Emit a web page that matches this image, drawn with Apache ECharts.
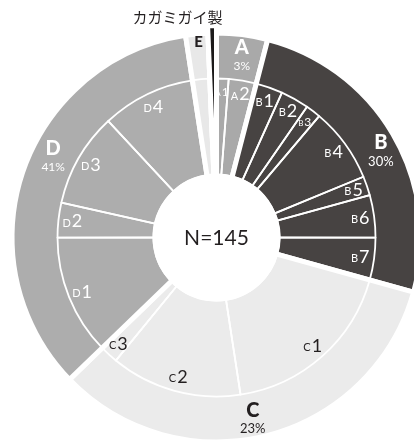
<!DOCTYPE html>
<html>
<head>
<meta charset="utf-8">
<script src="https://cdn.jsdelivr.net/npm/echarts@6/dist/echarts.min.js"></script>
<style>
html,body{margin:0;padding:0;background:#fff;}
#chart{width:414px;height:441px;}
</style>
</head>
<body>
<div id="chart"></div>
<script>
// ---- data ----
const totalN = 145;
const categories = ['A', 'B', 'C', 'D', 'E', 'カガミガイ製'];
const categoryShares = ['3%', '30%', '23%', '41%', '', ''];
const subNames = ['A1','A2','B1','B2','B3','B4','B5','B6','B7','C1','C2','C3','D1','D2','D3','D4'];
const subGroup = ['A','A','B','B','B','B','B','B','B','C','C','C','D','D','D','D'];
const subValues = [1.77, 4.07, 3.95, 4.19, 2.22, 11.0, 2.82, 6.24, 6.24, 26.5, 19.33, 2.70, 17.72, 5.12, 13.86, 13.77];
const otherNames = ['E', 'カガミガイ製'];
const otherValues = [2.54, 0.97];

// ---- derived ----
const catValues = categories.map(c => {
  const oi = otherNames.indexOf(c);
  if (oi >= 0) return otherValues[oi];
  return subValues.reduce((s, v, i) => s + (subGroup[i] === c ? v : 0), 0);
});
const innerNames = subNames.concat(otherNames);
const innerValues = subValues.concat(otherValues);
const innerGroup = subGroup.concat(otherNames);

// ---- styles ----
const FONT = 'Lato, "Noto Sans", sans-serif';
const colors = {A:'#a9a9a9', B:'#474342', C:'#ebebeb', D:'#adadad', E:'#e8e8e8', 'カガミガイ製':'#1c1a1a'};
const labelColors = {A:'#ffffff', B:'#ffffff', C:'#231f20', D:'#ffffff', E:'#231f20'};
const catLabelShift = {A:[2,0], B:[5,5], C:[-9,2], D:[11,-23], E:[0,-12]};
const smallSub = ['A1','B3'];
const center = [216.5, 237.5];
const TRANSPARENT = 'rgba(0,0,0,0)';
const blackName = categories[5];

const chart = echarts.init(document.getElementById('chart'), null, {renderer:'canvas'});

const outerData = categories.map((c, i) => ({
  name: c, value: catValues[i],
  itemStyle: {color: c === blackName ? TRANSPARENT : colors[c]}
}));

const linesData = innerNames.map((n, i) => ({name: n, value: innerValues[i]}));

const blackData = categories.map((c, i) => ({
  name: c, value: catValues[i],
  itemStyle: c === blackName
    ? {color: colors[c], borderColor:'#fff', borderWidth:5}
    : {color: TRANSPARENT, borderWidth:0}
}));

const catLabelData = categories.map((c, i) => {
  const col = labelColors[c] || '#231f20';
  let text = '';
  if (c !== blackName) {
    text = '{b|' + c + '}' + (categoryShares[i] ? '\n{p|' + categoryShares[i] + '}' : '');
  }
  const big = c === 'E' ? 15 : 20;
  return {
    name: c, value: catValues[i],
    label: {
      show: text !== '',
      formatter: text,
      rich: {
        b: {fontFamily: FONT, fontWeight: 900, fontSize: big, color: col, lineHeight: big + 2},
        p: {fontFamily: FONT, fontSize: c === 'A' || c === 'D' ? 12 : 13, color: col, lineHeight: 15}
      }
    }
  };
});

const subLabelData = innerNames.map((n, i) => {
  const g = innerGroup[i];
  const isSub = i < subNames.length;
  const col = labelColors[g] || '#231f20';
  const small = smallSub.indexOf(n) >= 0;
  return {
    name: n, value: innerValues[i],
    label: {
      show: isSub,
      formatter: isSub ? '{l|' + n.charAt(0) + '}{n|' + n.slice(1) + '}' : '',
      rich: {
        l: {fontFamily: FONT, fontSize: small ? 8 : 11, color: col, verticalAlign: 'bottom', padding: [0, 1, small ? 1 : 2, 0]},
        n: {fontFamily: FONT, fontSize: small ? 12 : 18, color: col, verticalAlign: 'bottom'}
      }
    }
  };
});

const base = {
  type: 'pie', center: center, startAngle: 90, clockwise: true,
  silent: true, animation: false, avoidLabelOverlap: false,
  emphasis: {disabled: true}, labelLine: {show: false}
};

chart.setOption({
  backgroundColor: '#ffffff',
  animation: false,
  series: [
    Object.assign({}, base, {
      name: 'outer', radius: [61.5, 204.5], z: 1,
      itemStyle: {borderColor: '#ffffff', borderWidth: 5},
      label: {show: false},
      data: outerData
    }),
    Object.assign({}, base, {
      name: 'lines', radius: [63, 159], z: 2,
      itemStyle: {color: TRANSPARENT, borderColor: '#ffffff', borderWidth: 1.8},
      label: {show: false},
      data: linesData
    }),
    Object.assign({}, base, {
      name: 'black', radius: [100, 212], z: 3,
      label: {show: false},
      data: blackData
    }),
    Object.assign({}, base, {
      name: 'catLabels', radius: [160, 202], z: 4,
      itemStyle: {color: TRANSPARENT, borderWidth: 0},
      label: {show: true, position: 'inside'},
      labelLayout: function (p) {
        const s = catLabelShift[categories[p.dataIndex]] || [0, 0];
        return {dx: s[0], dy: s[1]};
      },
      data: catLabelData
    }),
    Object.assign({}, base, {
      name: 'subLabels', radius: [126, 158], z: 4,
      itemStyle: {color: TRANSPARENT, borderWidth: 0},
      label: {show: true, position: 'inside'},
      data: subLabelData
    })
  ],
  graphic: [
    {type: 'text', x: center[0], y: center[1] + 1, z: 10,
     style: {text: 'N=' + totalN, fontFamily: FONT, fontSize: 21, fill: '#231f20', align: 'center', verticalAlign: 'middle'}},
    {type: 'text', x: 177.5, y: 17.5, z: 10,
     style: {text: blackName, fontFamily: '"Noto Sans CJK JP", sans-serif', fontSize: 15, fill: '#231f20', align: 'center', verticalAlign: 'middle'}}
  ]
});
</script>
</body>
</html>
